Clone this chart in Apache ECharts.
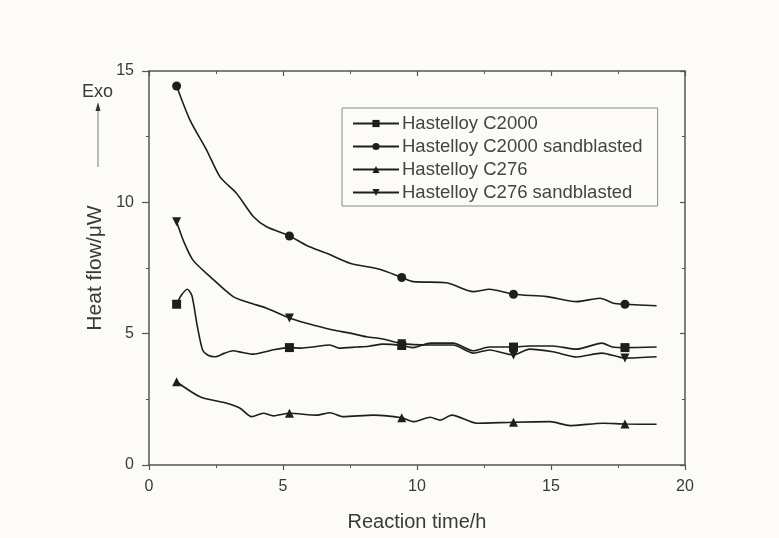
<!DOCTYPE html>
<html>
<head>
<meta charset="utf-8">
<script src="https://cdn.jsdelivr.net/npm/echarts@6/dist/echarts.min.js"></script>
<style>
html,body{margin:0;padding:0;background:#fcfbf8;}
#chart{width:779px;height:538px;}
</style>
</head>
<body>
<div id="chart"></div>
<script>
// ---- data ----
var seriesNames = ["Hastelloy C2000", "Hastelloy C2000 sandblasted", "Hastelloy C276", "Hastelloy C276 sandblasted"];
var markerX = [1.03, 5.24, 9.43, 13.6, 17.76];
var xTicks = [0, 5, 10, 15, 20];
var yTicks = [0, 5, 10, 15];

var c2000 = [[1.03,6.12],[1.2,6.45],[1.43,6.69],[1.6,6.45],[1.8,5.3],[2.0,4.38],[2.2,4.18],[2.46,4.12],[2.8,4.25],[3.14,4.35],[3.5,4.28],[3.9,4.22],[4.3,4.3],[4.6,4.38],[5.24,4.47],[5.7,4.45],[6.1,4.49],[6.75,4.57],[7.1,4.45],[7.75,4.49],[8.2,4.52],[8.73,4.6],[9.43,4.55],[9.86,4.47],[10.5,4.64],[11.35,4.64],[12.1,4.35],[12.7,4.49],[13.6,4.49],[14.2,4.53],[15.07,4.53],[15.96,4.41],[16.9,4.64],[17.3,4.49],[17.76,4.47],[18.94,4.49]];
var c2000sb = [[1.03,14.43],[1.53,13.13],[2.15,11.99],[2.65,10.97],[3.27,10.34],[3.9,9.45],[4.39,9.07],[5.24,8.72],[5.9,8.35],[6.63,8.06],[7.5,7.68],[8.6,7.45],[9.43,7.14],[9.86,6.98],[11.1,6.94],[12.1,6.6],[12.7,6.69],[13.6,6.5],[14.84,6.41],[15.96,6.22],[16.83,6.35],[17.33,6.16],[17.76,6.12],[18.94,6.06]];
var c276 = [[1.03,3.17],[1.9,2.6],[2.9,2.35],[3.4,2.16],[3.83,1.84],[4.27,1.97],[4.64,1.87],[5.24,1.97],[6.26,1.9],[6.75,1.99],[7.25,1.84],[8.37,1.9],[9.43,1.8],[9.86,1.65],[10.5,1.82],[10.86,1.71],[11.3,1.9],[12.23,1.59],[13.6,1.63],[14.96,1.65],[15.71,1.5],[16.94,1.59],[17.76,1.56],[18.94,1.55]];
var c276sb = [[1.03,9.26],[1.3,8.5],[1.64,7.8],[2.28,7.17],[3.14,6.41],[3.77,6.17],[4.39,5.97],[5.24,5.6],[5.88,5.4],[6.87,5.14],[7.5,5.02],[8.12,4.88],[8.73,4.8],[9.43,4.62],[10.5,4.57],[11.35,4.57],[12.1,4.26],[12.7,4.38],[13.6,4.19],[14.2,4.41],[15.07,4.31],[15.96,4.11],[16.9,4.26],[17.76,4.07],[18.94,4.12]];

var symbols = ['rect', 'circle', 'triangle', 'path://M0,0 L10,0 L5,10 Z'];
var allData = [c2000, c2000sb, c276, c276sb];

function toItems(arr) {
  return arr.map(function (p) {
    var isMarker = markerX.indexOf(p[0]) >= 0;
    return isMarker ? { value: p } : { value: p, symbol: 'none' };
  });
}

var lineColor = '#1e1e1e';
var textColor = '#3a3a3a';
var axisColor = '#555';
var font = 'Liberation Sans, Arial, sans-serif';

var series = allData.map(function (d, i) {
  return {
    name: seriesNames[i],
    type: 'line',
    data: toItems(d),
    symbol: symbols[i],
    symbolSize: 9,
    showAllSymbol: true,
    smooth: 0.25,
    lineStyle: { color: lineColor, width: 1.6 },
    itemStyle: { color: lineColor },
    z: 3
  };
});

var chart = echarts.init(document.getElementById('chart'));
chart.setOption({
  backgroundColor: '#fcfbf8',
  animation: false,
  textStyle: { fontFamily: font },
  grid: { left: 149, right: 94, top: 71, bottom: 73 },
  legend: {
    orient: 'vertical',
    left: 342, top: 108,
    width: 316,
    padding: [6, 15, 4, 10],
    itemGap: 4,
    itemWidth: 46,
    itemHeight: 9,
    borderColor: '#8a8a8a',
    borderWidth: 1,
    backgroundColor: '#fcfbf8',
    data: seriesNames,
    textStyle: { fontSize: 18.5, color: '#444', fontFamily: font, padding: [0, 0, 0, -2] }
  },
  xAxis: [{
    type: 'value', min: 0, max: 20, interval: 5,
    name: 'Reaction time/h', nameLocation: 'middle', nameGap: 47,
    nameTextStyle: { fontSize: 20, color: textColor, fontFamily: font },
    axisLine: { show: true, onZero: false, lineStyle: { color: axisColor, width: 1.5 } },
    axisTick: { show: true, inside: false, length: 5, lineStyle: { color: axisColor, width: 1.2 } },
    minorTick: { show: true, splitNumber: 2, length: 3, lineStyle: { color: axisColor } },
    axisLabel: { fontSize: 16, color: textColor, margin: 14 },
    splitLine: { show: false }
  }, {
    type: 'value', min: 0, max: 20, interval: 5, position: 'top',
    axisLine: { show: true, onZero: false, lineStyle: { color: axisColor, width: 1.5 } },
    axisTick: { show: true, inside: true, length: 5, lineStyle: { color: axisColor, width: 1.2 } },
    minorTick: { show: true, splitNumber: 2, length: 3, lineStyle: { color: axisColor } },
    axisLabel: { show: false },
    splitLine: { show: false }
  }],
  yAxis: [{
    type: 'value', min: 0, max: 15, interval: 5,
    name: 'Heat flow/\u03bcW', nameLocation: 'middle', nameGap: 37,
    nameTextStyle: { fontSize: 21, color: textColor, fontFamily: font },
    axisLine: { show: true, onZero: false, lineStyle: { color: axisColor, width: 1.5 } },
    axisTick: { show: true, inside: false, length: 7, lineStyle: { color: axisColor, width: 1.2 } },
    minorTick: { show: true, splitNumber: 2, length: 3, lineStyle: { color: axisColor } },
    axisLabel: { fontSize: 16, color: textColor, margin: 15 },
    splitLine: { show: false }
  }, {
    type: 'value', min: 0, max: 15, interval: 5, position: 'right',
    axisLine: { show: true, onZero: false, lineStyle: { color: axisColor, width: 1.5 } },
    axisTick: { show: true, inside: true, length: 5, lineStyle: { color: axisColor, width: 1.2 } },
    minorTick: { show: true, splitNumber: 2, length: 3, lineStyle: { color: axisColor } },
    axisLabel: { show: false },
    splitLine: { show: false }
  }],
  graphic: [
    { type: 'text', left: 82, top: 83, style: { text: 'Exo', fontSize: 18, fill: textColor, fontFamily: font } },
    { type: 'line', shape: { x1: 98, y1: 108, x2: 98, y2: 167 }, style: { stroke: '#777', lineWidth: 1 } },
    { type: 'polygon', shape: { points: [[98, 102], [95.5, 111], [100.5, 111]] }, style: { fill: '#333' } }
  ],
  series: series
});
</script>
</body>
</html>
